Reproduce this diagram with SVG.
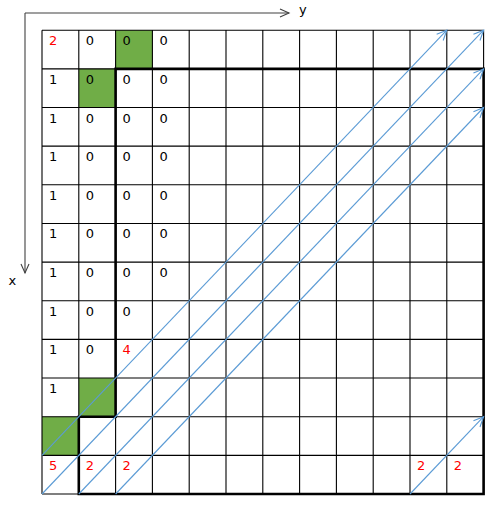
<svg xmlns="http://www.w3.org/2000/svg" width="498" height="508" viewBox="0 0 498 508">
<style>
.t{font-family:"DejaVu Sans","Liberation Sans",sans-serif;font-size:13px;fill:#000}
.r{fill:#FF0000}
.thin{fill:none;stroke:#000;stroke-width:1.1}
.thick{fill:none;stroke:#000;stroke-width:2.6}
.blue{fill:none;stroke:#5B9BD5;stroke-width:1.1}
.axis{fill:none;stroke:#404040;stroke-width:1.1}
.green{fill:#70AD47}
</style>
<defs>
<marker id="ab" markerUnits="userSpaceOnUse" markerWidth="12" markerHeight="12" refX="10" refY="4.5" orient="auto" overflow="visible">
<path d="M0,0 L10,4.5 L0,9" fill="none" stroke="#5B9BD5" stroke-width="1.1"/>
</marker>
<marker id="ag" markerUnits="userSpaceOnUse" markerWidth="12" markerHeight="12" refX="9" refY="4" orient="auto" overflow="visible">
<path d="M0,0 L9,4 L0,8" fill="none" stroke="#404040" stroke-width="1.1"/>
</marker>
</defs>
<rect width="498" height="508" fill="#fff"/>
<g id="axes">
<line class="axis" x1="25" y1="13" x2="289" y2="13" marker-end="url(#ag)"/>
<line class="axis" x1="25" y1="13" x2="25" y2="273" marker-end="url(#ag)"/>
<text class="t" x="299" y="13.5">y</text>
<text class="t" x="8.5" y="285">x</text>
</g>
<g id="highlights">
<rect class="green" x="115.6" y="30.2" width="36.8" height="38.65"/>
<rect class="green" x="78.8" y="68.85" width="36.8" height="38.65"/>
<rect class="green" x="78.8" y="378.05" width="36.8" height="38.65"/>
<rect class="green" x="42" y="416.7" width="36.8" height="38.65"/>
</g>
<g id="grid">
<path class="thin" d="M42,30.2V494 M78.8,30.2V494 M115.6,30.2V494 M152.4,30.2V494 M189.2,30.2V494 M226,30.2V494 M262.8,30.2V494 M299.6,30.2V494 M336.4,30.2V494 M373.2,30.2V494 M410,30.2V494 M446.8,30.2V494 M483.6,30.2V494 M42,30.2H483.6 M42,68.85H483.6 M42,107.5H483.6 M42,146.15H483.6 M42,184.8H483.6 M42,223.45H483.6 M42,262.1H483.6 M42,300.75H483.6 M42,339.4H483.6 M42,378.05H483.6 M42,416.7H483.6 M42,455.35H483.6 M42,494H483.6"/>
<path class="thick" d="M115.6,68.85H483.6V494H78.8V416.7H115.6Z"/>
</g>
<g id="connectors">
<line class="blue" x1="42" y1="455.35" x2="446.8" y2="30.2" marker-end="url(#ab)"/>
<line class="blue" x1="42" y1="494" x2="483.6" y2="30.2" marker-end="url(#ab)"/>
<line class="blue" x1="78.8" y1="494" x2="483.6" y2="68.85" marker-end="url(#ab)"/>
<line class="blue" x1="115.6" y1="494" x2="483.6" y2="107.5" marker-end="url(#ab)"/>
<line class="blue" x1="410" y1="494" x2="483.6" y2="416.7" marker-end="url(#ab)"/>
</g>
<g id="labels">
<text class="t r" x="49" y="45.2">2</text>
<text class="t" x="85.8" y="45.2">0</text>
<text class="t" x="122.6" y="45.2">0</text>
<text class="t" x="159.4" y="45.2">0</text>
<text class="t" x="49" y="83.85">1</text>
<text class="t" x="85.8" y="83.85">0</text>
<text class="t" x="122.6" y="83.85">0</text>
<text class="t" x="159.4" y="83.85">0</text>
<text class="t" x="49" y="122.5">1</text>
<text class="t" x="85.8" y="122.5">0</text>
<text class="t" x="122.6" y="122.5">0</text>
<text class="t" x="159.4" y="122.5">0</text>
<text class="t" x="49" y="161.15">1</text>
<text class="t" x="85.8" y="161.15">0</text>
<text class="t" x="122.6" y="161.15">0</text>
<text class="t" x="159.4" y="161.15">0</text>
<text class="t" x="49" y="199.8">1</text>
<text class="t" x="85.8" y="199.8">0</text>
<text class="t" x="122.6" y="199.8">0</text>
<text class="t" x="159.4" y="199.8">0</text>
<text class="t" x="49" y="238.45">1</text>
<text class="t" x="85.8" y="238.45">0</text>
<text class="t" x="122.6" y="238.45">0</text>
<text class="t" x="159.4" y="238.45">0</text>
<text class="t" x="49" y="277.1">1</text>
<text class="t" x="85.8" y="277.1">0</text>
<text class="t" x="122.6" y="277.1">0</text>
<text class="t" x="159.4" y="277.1">0</text>
<text class="t" x="49" y="315.75">1</text>
<text class="t" x="85.8" y="315.75">0</text>
<text class="t" x="122.6" y="315.75">0</text>
<text class="t" x="49" y="354.4">1</text>
<text class="t" x="85.8" y="354.4">0</text>
<text class="t r" x="122.6" y="354.4">4</text>
<text class="t" x="49" y="393.05">1</text>
<text class="t r" x="49" y="470.35">5</text>
<text class="t r" x="85.8" y="470.35">2</text>
<text class="t r" x="122.6" y="470.35">2</text>
<text class="t r" x="417" y="470.35">2</text>
<text class="t r" x="453.8" y="470.35">2</text>
</g>
</svg>
